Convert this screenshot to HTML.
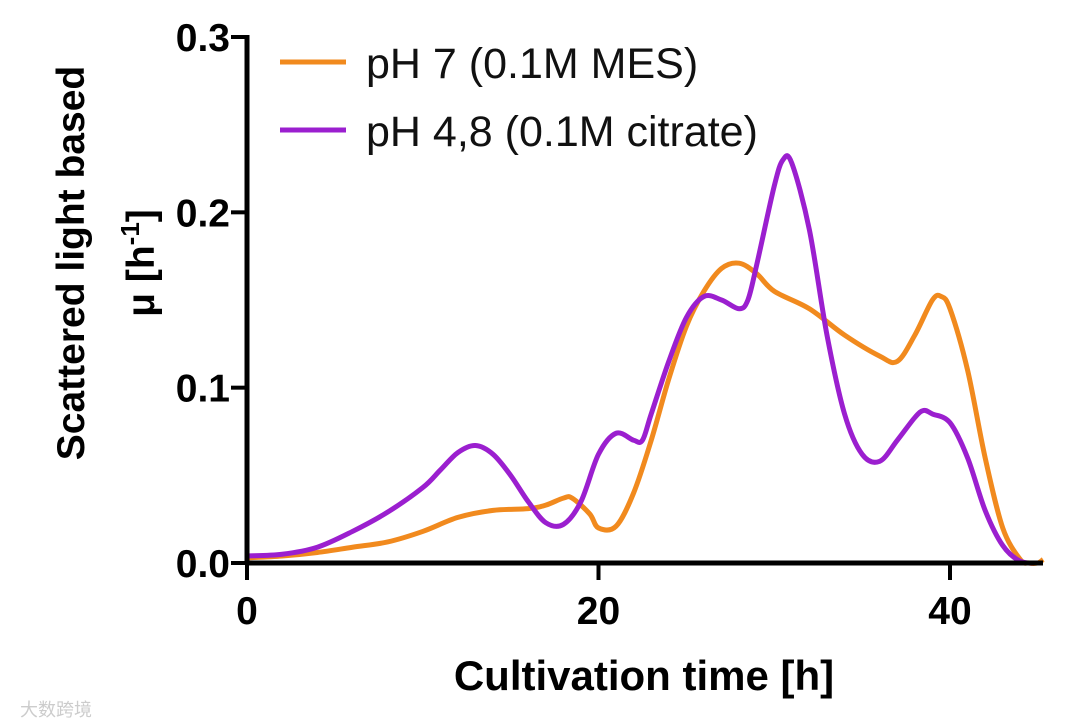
<!DOCTYPE html>
<html><head><meta charset="utf-8"><style>
body{margin:0;background:#fff;}
svg{display:block;font-family:"Liberation Sans",Arial,sans-serif;}
</style></head><body>
<svg id="chart" width="1080" height="726" viewBox="0 0 1080 726">
<g id="marks"></g>
<g id="axes"></g>
<g>
 <line x1="280" y1="62" x2="346" y2="62" stroke="#f18a1e" stroke-width="5"/>
 <text x="366" y="78" font-size="43" fill="#111">pH 7 (0.1M MES)</text>
 <line x1="280" y1="130" x2="346" y2="130" stroke="#9b1fcf" stroke-width="5"/>
 <text x="366" y="146" font-size="43" fill="#111">pH 4,8 (0.1M citrate)</text>
</g>
<text x="644" y="690" font-size="42" font-weight="bold" text-anchor="middle" fill="#000">Cultivation time [h]</text>
<g transform="translate(84,263) rotate(-90)">
 <text x="0" y="0" font-size="39" font-weight="bold" text-anchor="middle" fill="#000">Scattered light based</text>
 <text x="0" y="70" font-size="39" font-weight="bold" text-anchor="middle" fill="#000">μ [h<tspan font-size="26" dy="-15">-1</tspan><tspan dy="15">]</tspan></text>
</g>
<text x="20" y="716" font-size="18" fill="#ccc">大数跨境</text>
</svg>
<script>
const xTicks=[0,20,40];
const yTicks=[0.0,0.1,0.2,0.3];
const yTickLabels=["0.0","0.1","0.2","0.3"];
const mesT=[0,2,4,6,8,10,12,14,16,17,18,18.5,19.5,20,21,22,23,24,25,26,27,28,29,30,32,34,36,37,38,39,39.5,40,41,42,43,44,44.5,45,45.3];
const mesY=[0.003,0.004,0.006,0.009,0.012,0.018,0.026,0.030,0.031,0.033,0.037,0.037,0.028,0.020,0.021,0.040,0.070,0.105,0.135,0.155,0.168,0.171,0.165,0.155,0.145,0.130,0.118,0.115,0.130,0.150,0.152,0.145,0.110,0.060,0.020,0.002,0.000,0.000,0.002];
const citT=[0,2,4,6,8,10,11,12,13,14,15,16,17,18,19,20,21,22,22.5,23,24,25,26,27,28,28.5,29,30,30.5,31,32,33,34,35,36,37,38,38.5,39,40,41,42,43,44,45];
const citY=[0.004,0.005,0.009,0.018,0.029,0.043,0.053,0.063,0.067,0.062,0.050,0.035,0.023,0.022,0.035,0.062,0.074,0.070,0.070,0.085,0.115,0.140,0.152,0.150,0.145,0.150,0.170,0.215,0.230,0.228,0.190,0.130,0.085,0.062,0.058,0.070,0.083,0.087,0.085,0.080,0.060,0.030,0.010,0.001,0.000];
const X=t=>247+t*(950-247)/40;
const Y=v=>563-v*(563-37)/0.3;
const NS="http://www.w3.org/2000/svg";
const marks=document.getElementById('marks'), axes=document.getElementById('axes');
function mk(tag,attrs,parent){const e=document.createElementNS(NS,tag);for(const k in attrs)e.setAttribute(k,attrs[k]);parent.appendChild(e);return e;}
function path(ts,vs){let d='';for(let i=0;i<ts.length;i++){const x=X(ts[i]),y=Y(vs[i]);if(i==0){d='M'+x+','+y;continue;}const x0=X(ts[Math.max(i-2,0)]),y0=Y(vs[Math.max(i-2,0)]),x1=X(ts[i-1]),y1=Y(vs[i-1]),x3=X(ts[Math.min(i+1,ts.length-1)]),y3=Y(vs[Math.min(i+1,ts.length-1)]);d+=` C${x1+(x-x0)/6},${y1+(y-y0)/6} ${x-(x3-x1)/6},${y-(y3-y1)/6} ${x},${y}`;}return d;}
const pm=mk('path',{d:path(mesT,mesY),fill:'none',stroke:'#f18a1e','stroke-width':5,'stroke-linejoin':'round'},marks);


const pc=mk('path',{d:path(citT,citY),fill:'none',stroke:'#9b1fcf','stroke-width':5,'stroke-linejoin':'round'},marks);


const ya=mk('line',{x1:247,y1:35,x2:247,y2:565,stroke:'#000','stroke-width':5},axes);


const xa=mk('line',{x1:245,y1:563,x2:1043,y2:563,stroke:'#000','stroke-width':5},axes);


yTicks.forEach((v,i)=>{mk('line',{x1:231,y1:Y(v),x2:247,y2:Y(v),stroke:'#000','stroke-width':4},axes);
 const t=mk('text',{x:230,y:Y(v)+14,'font-size':39,'font-weight':'bold','text-anchor':'end'},axes);t.textContent=yTickLabels[i];
 
 });
xTicks.forEach(v=>{mk('line',{x1:X(v),y1:563,x2:X(v),y2:580,stroke:'#000','stroke-width':4},axes);
 const t=mk('text',{x:X(v),y:624,'font-size':39,'font-weight':'bold','text-anchor':'middle'},axes);t.textContent=v;
 
 });
</script>
</body></html>
